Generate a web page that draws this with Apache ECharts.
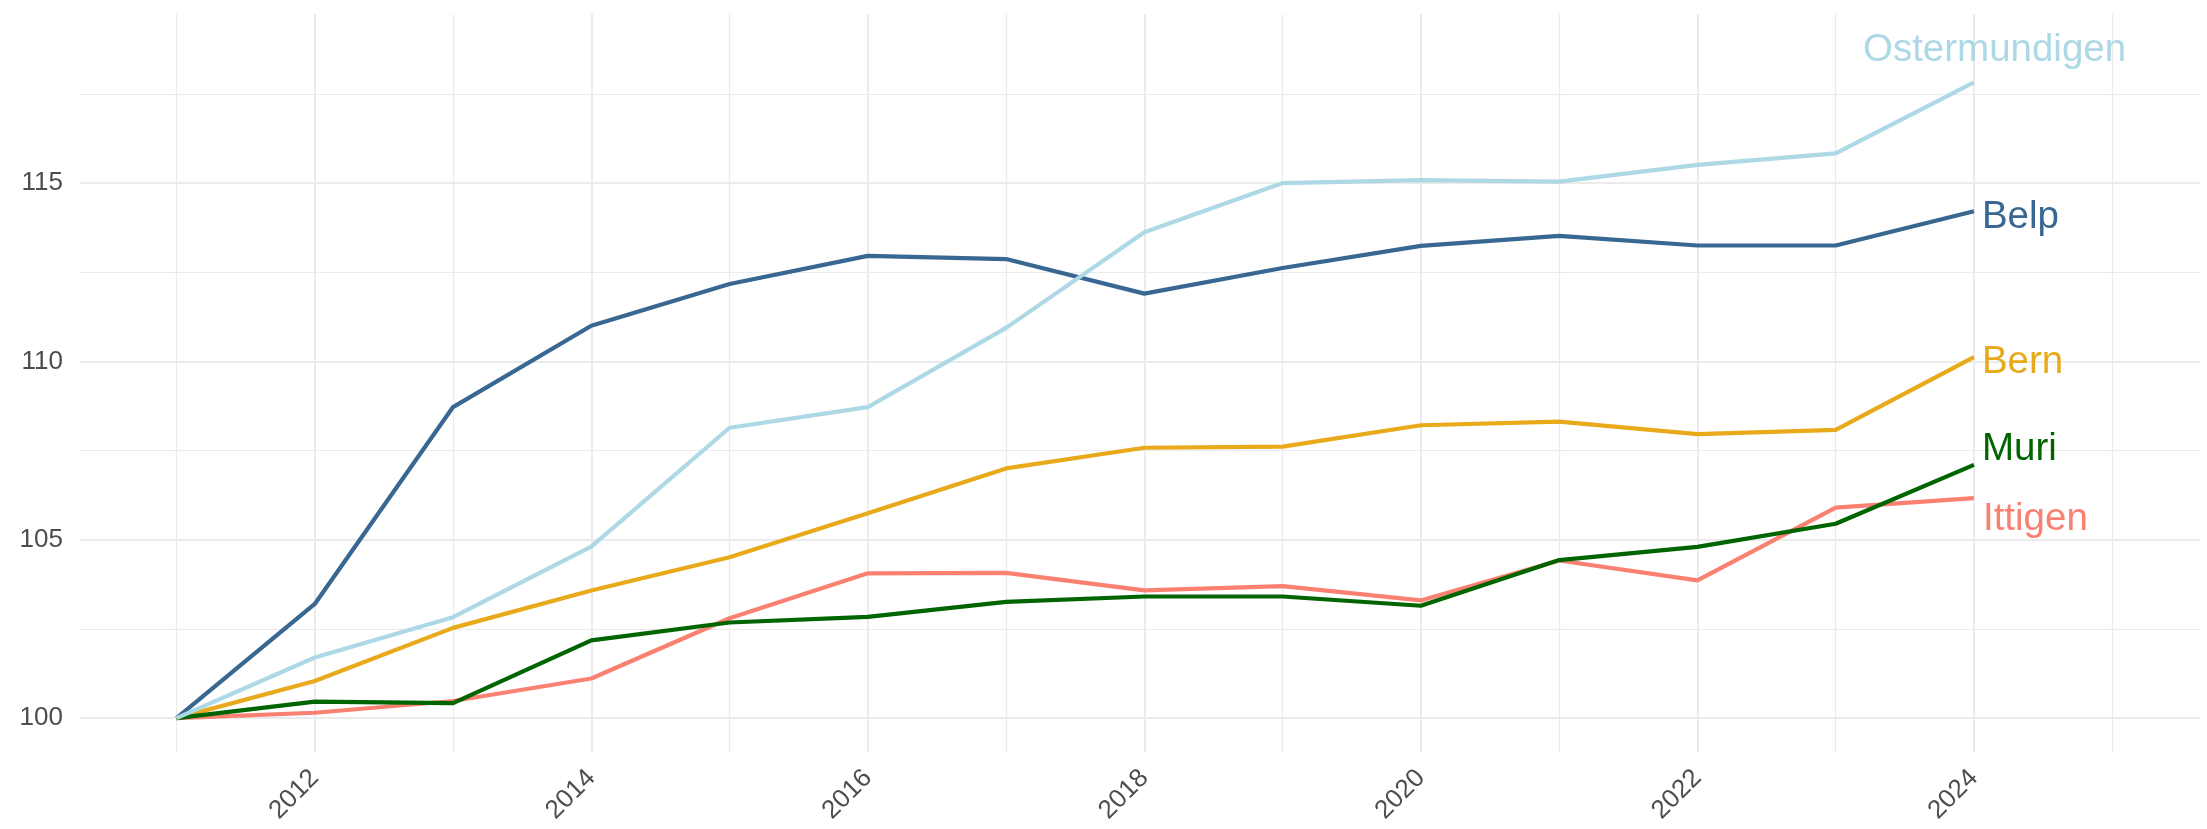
<!DOCTYPE html>
<html>
<head>
<meta charset="utf-8">
<script src="https://cdn.jsdelivr.net/npm/echarts@6/dist/echarts.min.js"></script>
<style>
html,body{margin:0;padding:0;background:#fff;}
#chart{width:2207px;height:829px;}
</style>
</head>
<body>
<div id="chart"></div>
<script>
// ---- data ----
const years = [2011,2012,2013,2014,2015,2016,2017,2018,2019,2020,2021,2022,2023,2024];
const belp          = [100,103.20,108.72,111.00,112.17,112.96,112.87,111.90,112.62,113.24,113.52,113.25,113.25,114.21];
const bern          = [100,101.04,102.53,103.58,104.51,105.74,107.00,107.58,107.61,108.21,108.31,107.96,108.08,110.12];
const ittigen       = [100,100.15,100.48,101.11,102.80,104.06,104.07,103.58,103.70,103.30,104.42,103.86,105.90,106.17];
const muri          = [100,100.46,100.42,102.18,102.68,102.84,103.26,103.41,103.41,103.15,104.43,104.80,105.45,107.10];
const ostermundigen = [100,101.70,102.83,104.81,108.14,108.72,110.94,113.62,115.00,115.08,115.04,115.51,115.83,117.82];

const xTickLabels = [2012,2014,2016,2018,2020,2022,2024];
const yTickLabels = [100,105,110,115];
const xMinorGrid  = [2011,2013,2015,2017,2019,2021,2023,2025];
const yMinorGrid  = [102.5,107.5,112.5,117.5];

const seriesDefs = [
  {name:'Belp',          values:belp,          color:'#386791', offset:[8,6]},
  {name:'Bern',          values:bern,          color:'#E8A91B', offset:[8,5]},
  {name:'Ittigen',       values:ittigen,       color:'#FA8072', offset:[9,21]},
  {name:'Muri',          values:muri,          color:'#006400', offset:[8,-15]},
  {name:'Ostermundigen', values:ostermundigen, color:'#ADD8E6', offset:[-111,-32]}
];

const FONT = "'Liberation Sans', Arial, sans-serif";
const gridColor = '#EBEBEB';

const gridMarks = [];
xTickLabels.forEach(v => gridMarks.push({xAxis:v, lineStyle:{width:2, color:gridColor}}));
xMinorGrid.forEach(v => gridMarks.push({xAxis:v, lineStyle:{width:1.2, color:gridColor}}));
yTickLabels.forEach(v => gridMarks.push({yAxis:v, lineStyle:{width:2, color:gridColor}}));
yMinorGrid.forEach(v => gridMarks.push({yAxis:v, lineStyle:{width:1.2, color:gridColor}}));

const series = [{
  name:'grid',
  type:'line',
  data: years.map((y,i)=>[y, belp[i]]),
  showSymbol:false,
  silent:true,
  z:1,
  lineStyle:{opacity:0},
  markLine:{
    z:1,
    silent:true,
    symbol:['none','none'],
    label:{show:false},
    animation:false,
    lineStyle:{type:'solid', color:gridColor},
    data: gridMarks
  }
}];

seriesDefs.forEach((s,k) => {
  series.push({
    name:s.name,
    type:'line',
    data: years.map((y,i)=>[y, s.values[i]]),
    showSymbol:false,
    symbol:'none',
    z:10+k,
    lineStyle:{color:s.color, width:4.2, join:'round'},
    itemStyle:{color:s.color},
    endLabel:{
      show:true,
      formatter:'{a}',
      color:s.color,
      fontSize:38.5,
      fontFamily:FONT,
      distance:0,
      offset:s.offset
    }
  });
});

const chart = echarts.init(document.getElementById('chart'), null, {renderer:'canvas'});
chart.setOption({
  animation:false,
  backgroundColor:'#ffffff',
  grid:{left:80, right:7, top:14, bottom:77, containLabel:false},
  xAxis:{
    type:'value',
    min:2010.302,
    max:2025.635,
    axisLine:{show:false},
    axisTick:{show:false},
    splitLine:{show:false},
    axisLabel:{
      customValues:xTickLabels,
      rotate:45,
      color:'#4D4D4D',
      fontSize:26,
      fontFamily:FONT,
      margin:22,
      formatter: v => String(v)
    }
  },
  yAxis:{
    type:'value',
    min:99.05,
    max:119.74,
    axisLine:{show:false},
    axisTick:{show:false},
    splitLine:{show:false},
    axisLabel:{
      customValues:yTickLabels,
      color:'#4D4D4D',
      fontSize:26,
      fontFamily:FONT,
      margin:17,
      formatter: v => String(v)
    }
  },
  series:series
});
</script>
</body>
</html>
